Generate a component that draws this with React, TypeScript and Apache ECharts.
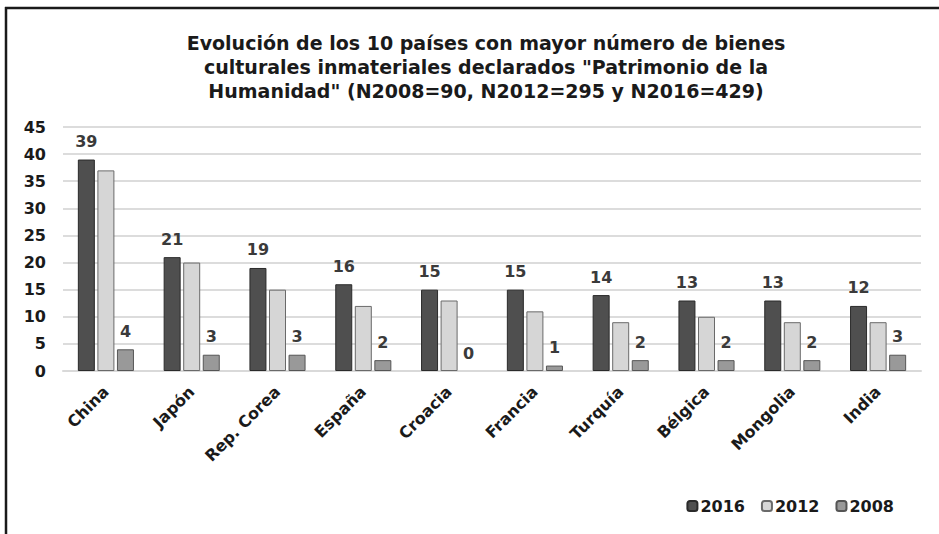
import React, { useEffect, useRef } from "react";
import * as echarts from "echarts";

const categories = ["China", "Japón", "Rep. Corea", "España", "Croacia", "Francia", "Turquía", "Bélgica", "Mongolia", "India"];
const values2016 = [39, 21, 19, 16, 15, 15, 14, 13, 13, 12];
const values2012 = [37, 20, 15, 12, 13, 11, 9, 10, 9, 9];
const values2008 = [4, 3, 3, 2, 0, 1, 2, 2, 2, 3];
const seriesNames = ["2016", "2012", "2008"];
const yTicks = { min: 0, max: 45, interval: 5 };
const titleText = 'Evolución de los 10 países con mayor número de bienes\nculturales inmateriales declarados "Patrimonio de la\nHumanidad" (N2008=90, N2012=295 y N2016=429)';

const AXIS_FONT = "'DejaVu Sans', Verdana, sans-serif";

// zero-height bars draw no outline
const withNoZeroOutline = (arr: number[]) =>
  arr.map((v) => (v === 0 ? { value: v, itemStyle: { borderWidth: 0 } } : v));

export default function App() {
  const ref = useRef<HTMLDivElement>(null);
  useEffect(() => {
    document.body.style.margin = "0";
    const chart = echarts.init(ref.current!, null, { renderer: "svg" });
    const labelStyle = {
      show: true,
      position: "top" as const,
      distance: 10,
      color: "#3a3a3a",
      fontFamily: AXIS_FONT,
      fontWeight: "bold" as const,
      fontSize: 16,
    };
    chart.setOption({
      animation: false,
      backgroundColor: "#ffffff",
      title: {
        text: titleText,
        left: 481,
        top: 26,
        textAlign: "center",
        textStyle: {
          fontFamily: AXIS_FONT,
          fontWeight: "bold",
          fontSize: 19,
          lineHeight: 24,
          color: "#1a1a1a",
        },
      },
      graphic: [
        { type: "line", shape: { x1: 5, y1: 8, x2: 939, y2: 8 }, style: { stroke: "#1a1a1a", lineWidth: 2.5 } },
        { type: "line", shape: { x1: 6, y1: 7, x2: 6, y2: 534 }, style: { stroke: "#1a1a1a", lineWidth: 2.5 } },
      ],
      legend: {
        data: seriesNames,
        right: 40,
        top: 493,
        itemWidth: 10,
        itemHeight: 10,
        itemGap: 16,
        textStyle: {
          fontFamily: AXIS_FONT,
          fontWeight: "bold",
          fontSize: 16,
          color: "#1a1a1a",
          padding: [0, 0, 0, -2],
        },
      },
      grid: { left: 63, right: 18, top: 127, bottom: 163, containLabel: false },
      xAxis: {
        type: "category",
        data: categories,
        axisLine: { show: true, lineStyle: { color: "#d9d9d9", width: 2 } },
        axisTick: { show: false },
        axisLabel: {
          rotate: 45,
          interval: 0,
          margin: 18,
          fontFamily: AXIS_FONT,
          fontWeight: "bold",
          fontSize: 16,
          color: "#1a1a1a",
        },
      },
      yAxis: {
        type: "value",
        min: yTicks.min,
        max: yTicks.max,
        interval: yTicks.interval,
        axisLine: { show: false },
        axisTick: { show: false },
        splitLine: { lineStyle: { color: "#dcdcdc", width: 2 } },
        axisLabel: {
          margin: 17,
          fontFamily: AXIS_FONT,
          fontWeight: "bold",
          fontSize: 16,
          color: "#1a1a1a",
        },
      },
      series: [
        {
          name: seriesNames[0],
          type: "bar",
          data: values2016,
          barWidth: 17,
          barGap: "15%",
          itemStyle: { color: "#4f4f4f", borderColor: "#2a2a2a", borderWidth: 1 },
          label: labelStyle,
        },
        {
          name: seriesNames[1],
          type: "bar",
          data: values2012,
          barWidth: 17,
          barGap: "15%",
          itemStyle: { color: "#d6d6d6", borderColor: "#6a6a6a", borderWidth: 1 },
        },
        {
          name: seriesNames[2],
          type: "bar",
          data: withNoZeroOutline(values2008),
          barWidth: 17,
          barGap: "15%",
          itemStyle: { color: "#999999", borderColor: "#555555", borderWidth: 1 },
          label: labelStyle,
        },
      ],
    });
    return () => chart.dispose();
  }, []);
  return <div ref={ref} style={{ width: 939, height: 534 }} />;
}
